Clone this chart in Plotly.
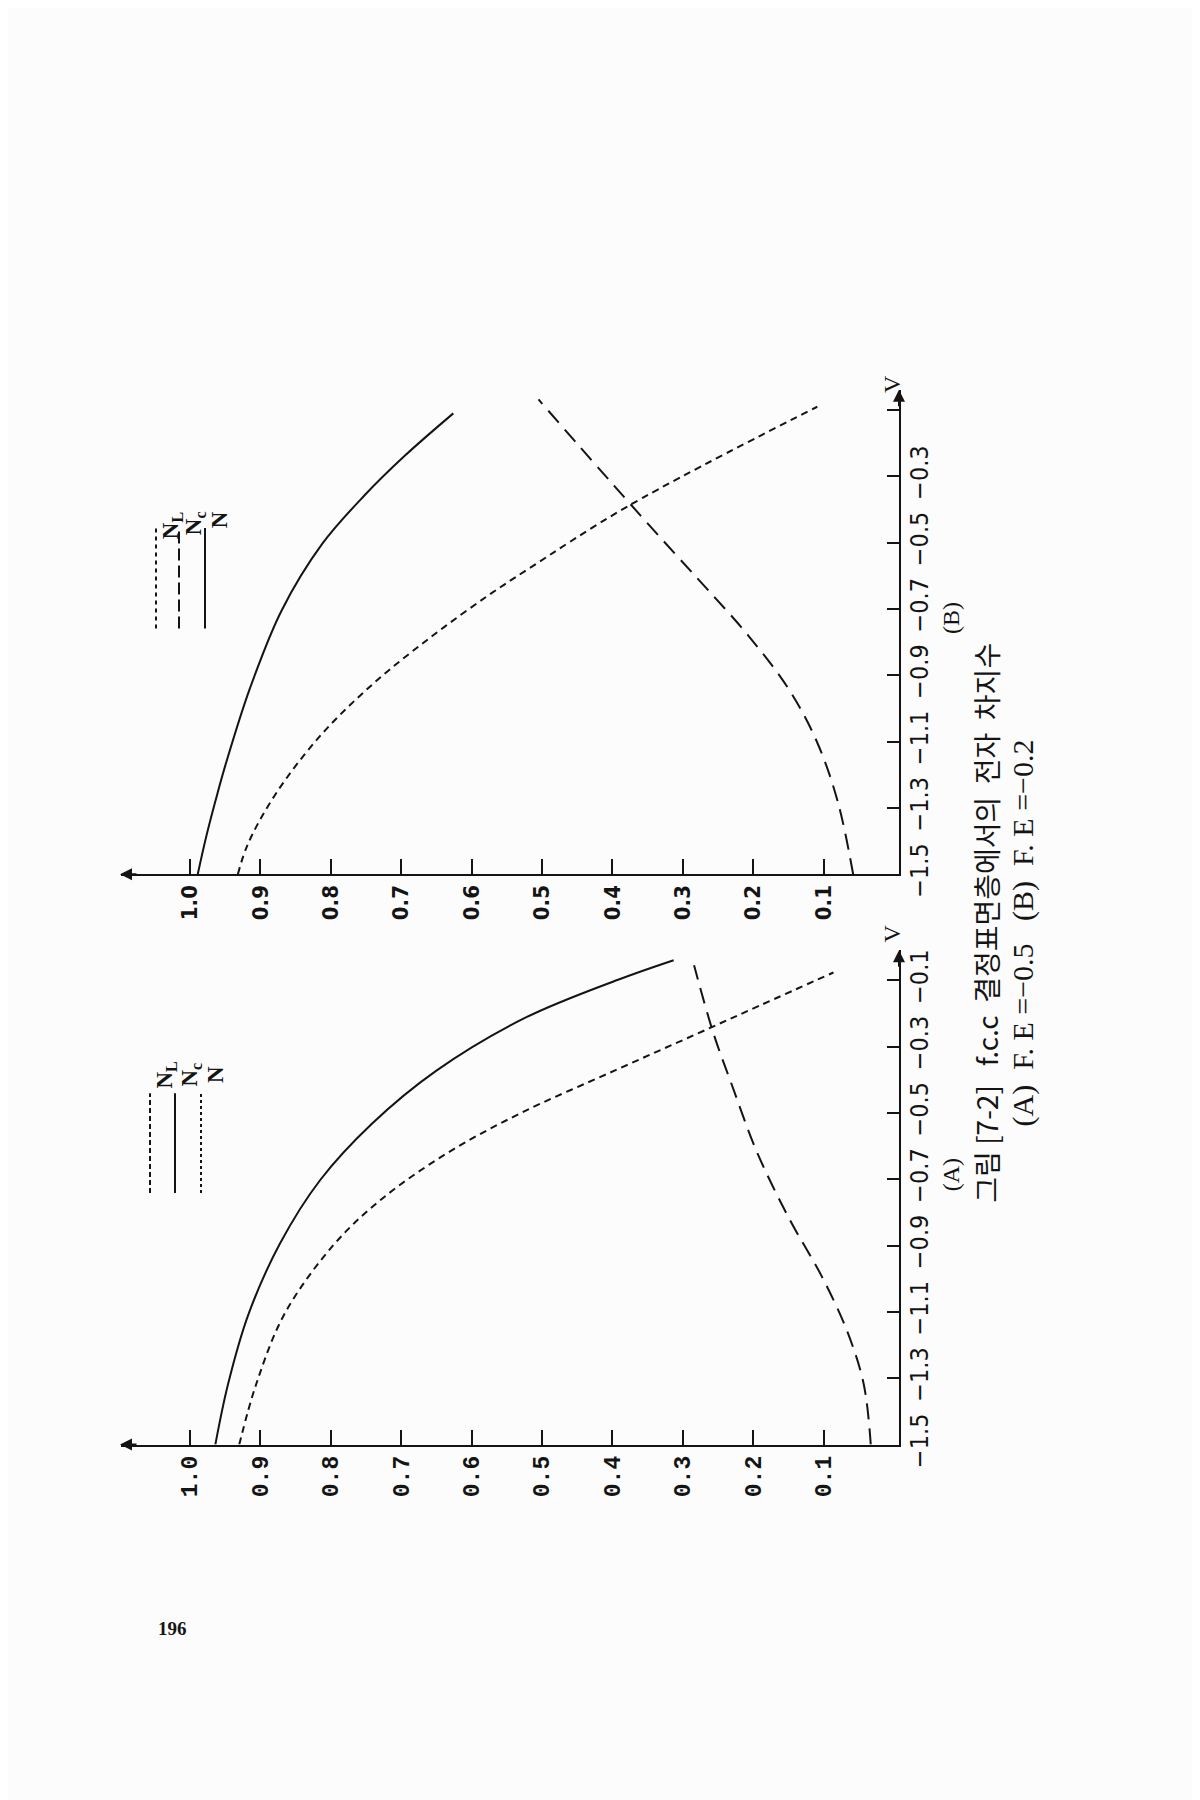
# Fig. 7-2: electron occupation in fcc surface layers, page scanned sideways.
import plotly.graph_objects as go

W, H = 1200, 1800

# N axis ticks (shared by both panels)
N_TICKS = [1.0, 0.9, 0.8, 0.7, 0.6, 0.5, 0.4, 0.3, 0.2, 0.1]
N_LABELS = ["1.0", "0.9", "0.8", "0.7", "0.6", "0.5", "0.4", "0.3", "0.2", "0.1"]
V_TICKS = [-1.5, -1.3, -1.1, -0.9, -0.7, -0.5, -0.3, -0.1]
V_LABELS_A = ["−1.5", "−1.3", "−1.1", "−0.9", "−0.7", "−0.5", "−0.3", "−0.1"]
V_LABELS_B = ["−1.5", "−1.3", "−1.1", "−0.9", "−0.7", "−0.5", "−0.3", ""]

# panel (A), F.E = -0.5
A_N_V = [-1.5, -1.318, -1.107, -0.893, -0.702, -0.533, -0.372, -0.214, -0.098, -0.039]
A_N = [0.964, 0.946, 0.917, 0.872, 0.815, 0.742, 0.650, 0.525, 0.392, 0.313]
A_NL_V = [-1.5, -1.318, -1.107, -0.9, -0.76, -0.62, -0.5, -0.372, -0.262, -0.176, -0.076]
A_NL = [0.930, 0.906, 0.866, 0.797, 0.728, 0.634, 0.530, 0.397, 0.281, 0.191, 0.086]
A_NC_V = [-1.5, -1.318, -1.161, -0.991, -0.818, -0.616, -0.417, -0.256, -0.054]
A_NC = [0.033, 0.043, 0.066, 0.103, 0.149, 0.195, 0.230, 0.257, 0.284]

# panel (B), F.E = -0.2
B_N_V = [-1.5, -1.387, -1.28, -1.173, -0.94, -0.705, -0.503, -0.357, -0.238, -0.11]
B_N = [0.989, 0.977, 0.964, 0.950, 0.915, 0.870, 0.812, 0.752, 0.695, 0.626]
B_NL_V = [-1.5, -1.41, -1.26, -1.08, -0.92, -0.78, -0.66, -0.58, -0.39, -0.09]
B_NL = [0.932, 0.918, 0.879, 0.814, 0.737, 0.655, 0.577, 0.520, 0.378, 0.109]
B_NC_V = [-1.5, -1.28, -1.098, -0.94, -0.78, -0.643, -0.536, -0.387, -0.25, -0.068]
B_NC = [0.058, 0.080, 0.110, 0.150, 0.207, 0.264, 0.310, 0.373, 0.430, 0.505]

INK = "#141414"
BG = "#fcfcfc"
SANS_N = "Liberation Sans Narrow, DejaVu Sans Condensed, sans-serif"
MONO = "Liberation Mono, DejaVu Sans Mono, monospace"
SERIF = "Liberation Serif, DejaVu Serif, serif"
KR = "Noto Sans CJK KR"

STYLE = {
    "N": dict(color=INK, width=2),
    "NL": dict(color=INK, width=2, dash="7px,5px"),
    "NC": dict(color=INK, width=2, dash="16px,9px"),
}


def px(x):
    return x / W


def py(y):
    return 1 - y / H


fig = go.Figure()
for xa, ya, series in [
    ("x", "y", [(B_N, B_N_V, "N"), (B_NL, B_NL_V, "NL"), (B_NC, B_NC_V, "NC")]),
    ("x2", "y2", [(A_N, A_N_V, "N"), (A_NL, A_NL_V, "NL"), (A_NC, A_NC_V, "NC")]),
]:
    for n, v, key in series:
        fig.add_trace(go.Scatter(x=n, y=v, mode="lines", line=dict(shape="spline", **STYLE[key]),
                                 xaxis=xa, yaxis=ya, hoverinfo="skip"))

x_dom = [px(113), px(891)]
x_rng = [1.098, -0.0071]


def n_axis(anchor, font):
    return dict(domain=x_dom, range=x_rng, anchor=anchor, tickvals=N_TICKS, ticktext=N_LABELS,
                tickangle=-90, ticks="inside", ticklen=15, tickwidth=2, tickcolor=INK,
                showline=True, linewidth=2, linecolor=INK, showgrid=False, zeroline=False,
                tickfont=font)


def v_axis(anchor, dom, top, labels):
    return dict(domain=dom, range=[-1.5, top], anchor=anchor, side="right", tickvals=V_TICKS,
                ticktext=labels, tickangle=-90, ticks="inside", ticklen=12, tickwidth=2,
                tickcolor=INK, showline=True, linewidth=2, linecolor=INK, showgrid=False,
                zeroline=False, ticklabelstandoff=-3,
                tickfont=dict(family=SANS_N, size=25, color=INK))


fig.update_layout(
    width=W, height=H, margin=dict(l=0, r=0, t=0, b=0),
    paper_bgcolor=BG, plot_bgcolor=BG, showlegend=False,
    xaxis=n_axis("y", dict(family=SANS_N, size=22, color=INK, weight="bold")),
    yaxis=v_axis("x", [py(878), py(387)], -0.039, V_LABELS_B),
    xaxis2=n_axis("y2", dict(family=MONO, size=23, color=INK, weight="bold")),
    yaxis2=v_axis("x2", [py(1456), py(955)], -0.009, V_LABELS_A),
)

ann = []
shapes = []
for y_axis, y_top in [(878, 387), (1456, 955)]:
    # arrow heads on the axes
    ann.append(dict(x=px(112), y=py(y_axis), ax=18, ay=0, xref="paper", yref="paper",
                    text="", showarrow=True, arrowhead=2, arrowsize=1.2, arrowwidth=2,
                    arrowcolor=INK))
    ann.append(dict(x=px(891), y=py(y_top), ax=0, ay=18, xref="paper", yref="paper",
                    text="", showarrow=True, arrowhead=2, arrowsize=1.2, arrowwidth=2,
                    arrowcolor=INK))
    ann.append(dict(x=px(899), y=py(y_top - 17), xref="paper", yref="paper", text="V",
                    showarrow=False, textangle=-90, font=dict(family=SERIF, size=24, color=INK)))

ann.append(dict(x=px(958), y=py(600), xref="paper", yref="paper", text="(B)", showarrow=False,
                textangle=-90, font=dict(family=SERIF, size=24, color=INK)))
ann.append(dict(x=px(958), y=py(1183), xref="paper", yref="paper", text="(A)", showarrow=False,
                textangle=-90, font=dict(family=SERIF, size=24, color=INK)))

# legends (vertical sample lines + rotated labels)
for xs, y0, y1, ylab, dashes in [
    ([148, 171, 197], 629, 527, 508, ["4px,4px", "12px,5px", "solid"]),
    ([142, 167, 193], 1201, 1100, 1081, ["5px,3px", "solid", "dot"]),
]:
    for x, d, lab in zip(xs, dashes, ["N<sub>L</sub>", "N<sub>c</sub>", "N"]):
        shapes.append(dict(type="line", xref="paper", yref="paper", x0=px(x), x1=px(x),
                           y0=py(y0), y1=py(y1), line=dict(color=INK, width=2, dash=d)))
        ann.append(dict(x=px(x), y=py(ylab), xref="paper", yref="paper", text=lab,
                        showarrow=False, textangle=-90,
                        font=dict(family=SERIF, size=23, color=INK, weight="bold")))

ann.append(dict(x=px(1000), y=py(927), xref="paper", yref="paper",
                text="그림 [7-2]   f.c.c  결정표면층에서의  전자  차지수", showarrow=False,
                textangle=-90, font=dict(family=KR, size=28, color=INK)))
ann.append(dict(x=px(1034), y=py(938), xref="paper", yref="paper",
                text="(A)  F. E =−0.5   (B)  F. E =−0.2", showarrow=False,
                textangle=-90, font=dict(family=SERIF, size=30, color=INK)))
ann.append(dict(x=px(148), y=py(1655), xref="paper", yref="paper", text="196",
                showarrow=False, font=dict(family=SERIF, size=19, color=INK, weight="bold")))

fig.update_layout(annotations=ann, shapes=shapes)
fig.write_html("out.html")
